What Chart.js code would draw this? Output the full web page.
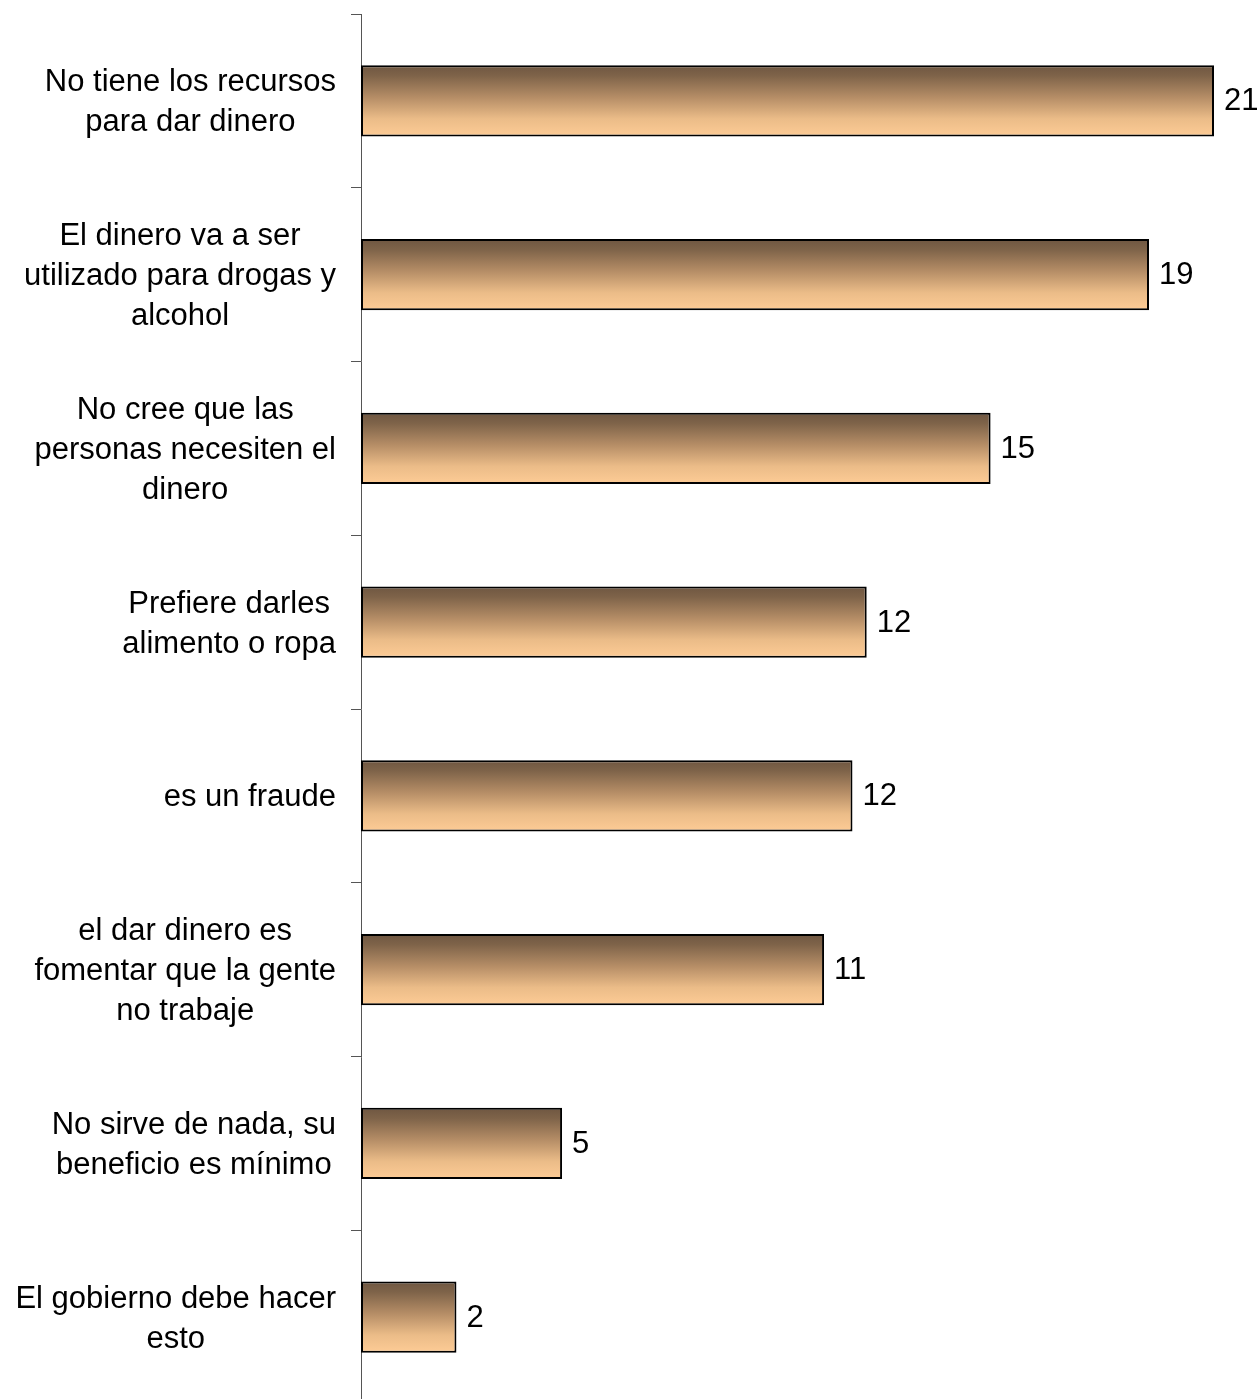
<!DOCTYPE html>
<html>
<head>
<meta charset="utf-8">
<script src="https://cdn.jsdelivr.net/npm/chart.js@4/dist/chart.umd.min.js"></script>
<style>
html,body{margin:0;padding:0;background:#fff;overflow:hidden;}
#wrap{width:1259px;height:1410px;position:relative;}
</style>
</head>
<body>
<div id="wrap"><canvas id="c" width="1259" height="1410"></canvas></div>
<script>
const categories = [
  ["No tiene los recursos", "para dar dinero"],
  ["El dinero va a ser", "utilizado para drogas y", "alcohol"],
  ["No cree que las", "personas necesiten el", "dinero"],
  ["Prefiere darles", "alimento o ropa"],
  ["es un fraude"],
  ["el dar dinero es", "fomentar que la gente", "no trabaje"],
  ["No sirve de nada, su", "beneficio es mínimo"],
  ["El gobierno debe hacer", "esto"]
];
const values = [21.0, 19.4, 15.5, 12.45, 12.1, 11.4, 4.95, 2.35];
const valueLabels = ["21", "19", "15", "12", "12", "11", "5", "2"];

const FONT = "31px 'Liberation Sans', Arial, sans-serif";

const catLabelPlugin = {
  id: 'catLabels',
  afterDraw(chart) {
    const ctx = chart.ctx;
    const y = chart.scales.y;
    ctx.save();
    ctx.font = FONT;
    ctx.fillStyle = '#000';
    ctx.textBaseline = 'middle';
    ctx.textAlign = 'center';
    const blockRight = 336;
    const lh = 40;
    categories.forEach((lines, i) => {
      const cy = y.getPixelForTick(i) + 2;
      const maxW = Math.max(...lines.map(l => ctx.measureText(l).width));
      const cx = blockRight - maxW / 2;
      lines.forEach((l, j) => {
        const ly = cy + (j - (lines.length - 1) / 2) * lh;
        ctx.fillText(l, cx, ly);
      });
    });
    const meta = chart.getDatasetMeta(0);
    ctx.textAlign = 'left';
    meta.data.forEach((bar, i) => {
      ctx.fillText(valueLabels[i], bar.x + 10, bar.y + 1);
    });
    ctx.restore();
  }
};

function barGradient(context) {
  const chart = context.chart;
  if (!chart.chartArea || context.dataIndex === undefined) return '#c49a6e';
  const ys = chart.scales.y;
  const cy = ys.getPixelForTick(context.dataIndex);
  const h = 36;
  const g = chart.ctx.createLinearGradient(0, cy - h, 0, cy + h);
  g.addColorStop(0, '#6e5641');
  g.addColorStop(0.15, '#7e6349');
  g.addColorStop(0.45, '#b58d66');
  g.addColorStop(0.75, '#ebbc88');
  g.addColorStop(1, '#fecc96');
  return g;
}

new Chart(document.getElementById('c'), {
  type: 'bar',
  data: {
    labels: categories,
    datasets: [{
      data: values,
      backgroundColor: barGradient,
      borderColor: '#000',
      borderWidth: 2,
      borderSkipped: false,
      barPercentage: 0.41,
      categoryPercentage: 1.0
    }]
  },
  options: {
    indexAxis: 'y',
    responsive: false,
    animation: false,
    layout: { padding: { top: 14, right: 45, bottom: 6, left: 0 } },
    plugins: { legend: { display: false }, tooltip: { enabled: false } },
    scales: {
      x: { display: false, min: 0, max: 21 },
      y: {
        afterFit(scale) { scale.width = 361; },
        ticks: { display: false },
        grid: { display: true, drawOnChartArea: false, drawTicks: true, tickLength: 10, color: '#555', offset: true },
        border: { display: true, color: '#555', width: 1 }
      }
    }
  },
  plugins: [catLabelPlugin]
});
</script>
</body>
</html>
